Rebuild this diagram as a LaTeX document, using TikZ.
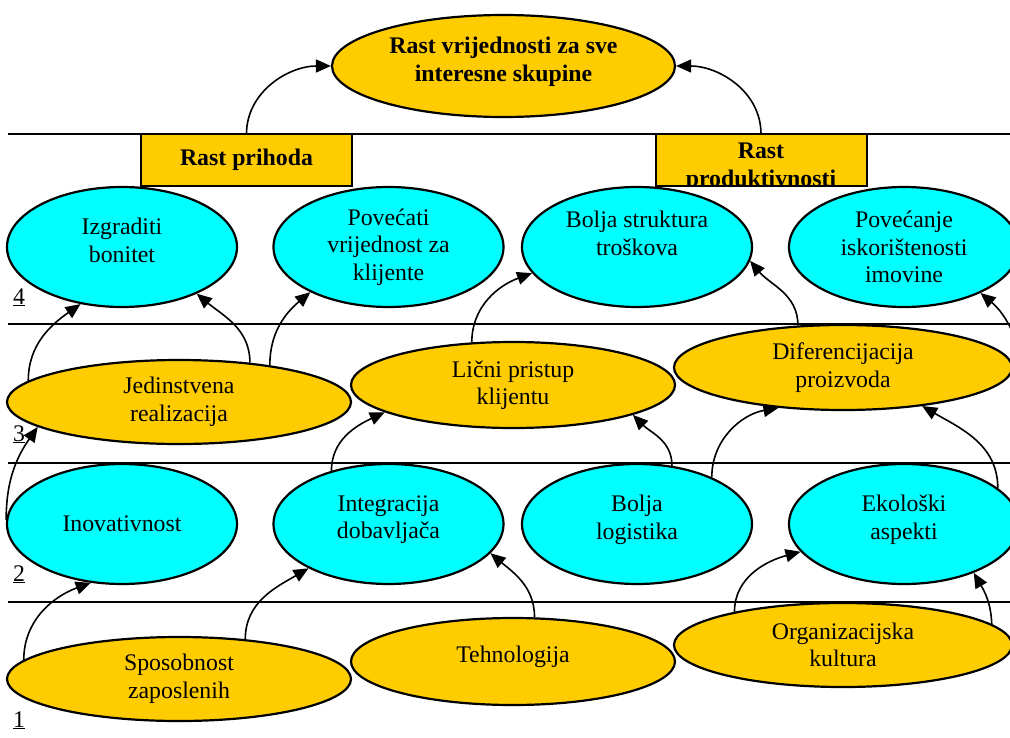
\documentclass[tikz,border=0pt]{standalone}
\usepackage{fontspec}
\setmainfont{Liberation Serif}
\usetikzlibrary{shapes.geometric, arrows.meta}
\definecolor{mycyan}{HTML}{00FFFF}
\definecolor{mygold}{HTML}{FFCC00}
\newcommand{\bigfont}{\fontsize{23.8pt}{27.5pt}\selectfont}
\newcommand{\padhalf}{\\[-13.5pt]\mbox{}}
\newcommand{\padfull}{\\\mbox{}}

\begin{document}
\begin{tikzpicture}[
            x=1pt, y=1pt,
            font=\bigfont,
            rule/.style={line width=2pt},
            oval/.style={ellipse, draw, line width=2.2pt, inner sep=0pt, align=center},
            cyanoval/.style={oval, fill=mycyan, minimum width=230pt, minimum height=120pt},
            goldoval/.style={oval, fill=mygold},
            goal/.style={rectangle, draw, line width=2pt, fill=mygold, outer sep=0pt,
                         minimum width=211pt, minimum height=52pt, font=\bigfont\bfseries},
            level/.style={anchor=base west, inner sep=0pt},
            arr/.style={-{Triangle[length=15pt, width=13pt]}, line width=1.6pt}
            ]
        \useasboundingbox (0,0) rectangle (1010,-737);
        \clip (0,0) rectangle (1010,-737);

        \foreach \y in {134,324,463,602}
            \draw[rule] (8,-\y) -- (1012,-\y);

        % top goal and the two boxes
        \node[goldoval, font=\bigfont\bfseries, minimum width=343pt, minimum height=102pt]
            (top) at (503.5,-66) {Rast vrijednosti za sve\\interesne skupine\padhalf};
        \node[goal] (prih) at (246.5,-160) {Rast prihoda};
        \node[goal] (prod) at (761,-160) {};
        \begin{scope}
            \clip (prod.south west) rectangle (prod.north east);
            \node[anchor=north, inner sep=0pt, align=center, font=\bigfont\bfseries]
                (prodtext) at ([yshift=-9pt]prod.north) {Rast\\produktivnosti};
        \end{scope}
        \draw[line width=2pt] (prod.south west) rectangle (prod.north east);

        % level 4
        \node[cyanoval] (izg) at (122,-247) {Izgraditi\\bonitet\padhalf};
        \node[cyanoval] (pov) at (388.5,-247) {Povećati\\vrijednost za\\klijente};
        \node[cyanoval] (bst) at (637,-247) {Bolja struktura\\troškova\padfull};
        \node[cyanoval] (imo) at (904,-247) {Povećanje\\iskorištenosti\\imovine};

        % level 3
        \node[goldoval, minimum width=344pt, minimum height=84pt] (jed) at (179,-402) {Jedinstvena\\realizacija};
        \node[goldoval, minimum width=324pt, minimum height=86pt] (lic) at (513,-385) {Lični pristup\\klijentu};
        \node[goldoval, minimum width=338pt, minimum height=85pt] (dif) at (843,-367.5) {Diferencijacija\\proizvoda};

        % level 2
        \node[cyanoval] (ino) at (122,-524) {Inovativnost};
        \node[cyanoval] (intg) at (388.5,-524) {Integracija\\dobavljača\padhalf};
        \node[cyanoval] (logi) at (637,-524) {Bolja\\logistika\padhalf};
        \node[cyanoval] (eko) at (904,-524) {Ekološki\\aspekti\padhalf};

        % level 1
        \node[goldoval, minimum width=344pt, minimum height=84pt] (spo) at (179,-679) {Sposobnost\\zaposlenih};
        \node[goldoval, minimum width=324pt, minimum height=87pt] (teh) at (513,-661.5) {Tehnologija\padhalf};
        \node[goldoval, minimum width=338pt, minimum height=84pt] (org) at (843,-645) {Organizacijska\\kultura};

        \node[level] (l4) at (13,-304) {\underline{4}};
        \node[level] (l3) at (13,-441) {\underline{3}};
        \node[level] (l2) at (13,-581) {\underline{2}};
        \node[level] (l1) at (13,-727) {\underline{1}};

        \coordinate (offright) at (1020,-350);

        \draw[arr] (prih.north) to[out=90, in=180] (top.west);
        \draw[arr] (prod.north) to[out=90, in=0] (top.east);
        \draw[arr] (jed.172.5) to[out=90, in=215] (izg.234);
        \draw[arr] (jed.29) to[out=90, in=-40] (izg.-32);
        \draw[arr] (jed.22) to[out=90, in=220] (pov.210);
        \draw[arr] (lic.134) to[out=90, in=200] (bst.194);
        \draw[arr] (dif.137) to[out=90, in=-50] (bst.-7);
        \draw[arr] (offright) to[out=110, in=-40] (imo.-31);
        \draw[arr] (ino.178) to[out=90, in=235] (jed.190);
        \draw[arr] (intg.137) to[out=90, in=205] (lic.192);
        \draw[arr] (logi.59) to[out=90, in=-45] (lic.-14.5);
        \draw[arr] (logi.32) to[out=90, in=190] (dif.212);
        \draw[arr] (eko.21) to[out=90, in=-30] (dif.-26);
        \draw[arr] (spo.173) to[out=90, in=200] (ino.242);
        \draw[arr] (spo.31) to[out=90, in=210] (intg.209);
        \draw[arr] (teh.64) to[out=90, in=-40] (intg.-16);
        \draw[arr] (org.163) to[out=90, in=195] (eko.195);
        \draw[arr] (org.8) to[out=92, in=-60] (eko.-35);
    \end{tikzpicture}
\end{document}
